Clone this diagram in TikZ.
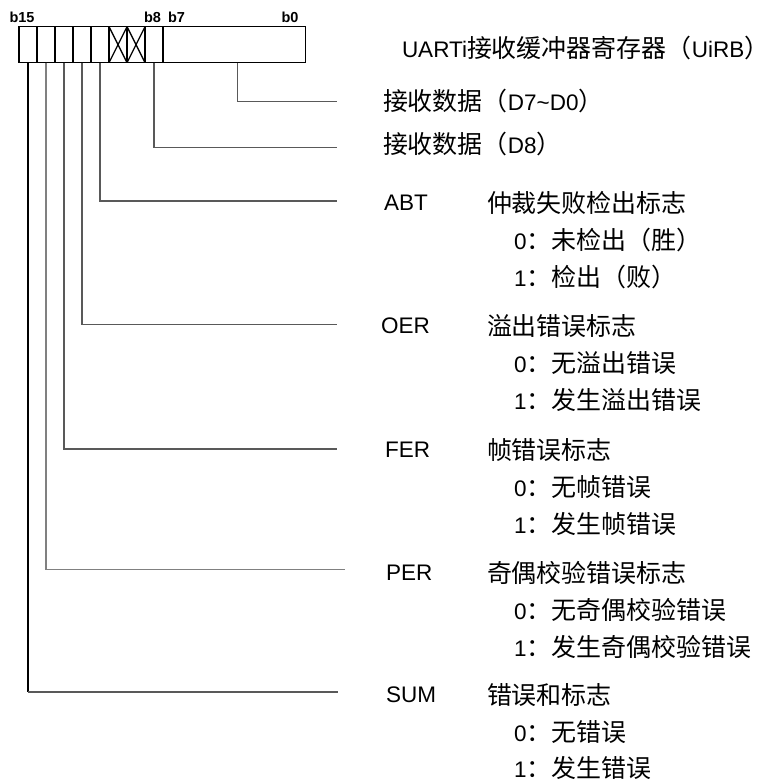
\documentclass[tikz,border=0pt]{standalone}
\usepackage{fontspec}
\setmainfont{Liberation Sans}
\newfontfamily\cjk[Scale=1.11]{Noto Sans CJK SC}
\newcommand\zh[1]{{\cjk #1}}
\begin{document}
\begin{tikzpicture}[x=1pt,y=-1pt,
  every node/.style={inner sep=0pt,outer sep=0pt},
  txt/.style={anchor=west,font=\fontsize{22.5}{27}\selectfont},
  bitlbl/.style={font=\bfseries\fontsize{14.5}{16}\selectfont},
  lead/.style={draw=black!65,line width=1.1pt},
  reg/.style={draw=black,line width=1.3pt}]
\useasboundingbox (0,0) rectangle (771,782);
% register box
\draw[reg] (19,26.7) rectangle (305.7,62.7);
\foreach \k in {1,...,8} \draw[reg] (19+18*\k,26.7) -- (19+18*\k,62.7);
\draw[reg] (109,26.7) -- (127,62.7) (109,62.7) -- (127,26.7)
           (127,26.7) -- (145,62.7) (127,62.7) -- (145,26.7);
% bit labels
\node[bitlbl,anchor=west] (b15) at (9.5,17) {b15};
\node[bitlbl] (b8) at (152.5,17) {b8};
\node[bitlbl,anchor=west] (b7) at (168,17) {b7};
\node[bitlbl,anchor=east] (b0) at (298.5,17) {b0};
% leader start coordinates
\coordinate (s15) at (28,62.7);
\coordinate (s14) at (46,62.7);
\coordinate (s13) at (64,62.7);
\coordinate (s12) at (82,62.7);
\coordinate (s11) at (100,62.7);
\coordinate (s8)  at (154,62.7);
\coordinate (sD)  at (237.3,62.7);
% leader end coordinates
\coordinate (eD)   at (337,101.7);
\coordinate (e8)   at (337,147.7);
\coordinate (eABT) at (337,201);
\coordinate (eOER) at (337,324.3);
\coordinate (eFER) at (337,449);
\coordinate (ePER) at (345,569.3);
\coordinate (eSUM) at (338,692);
\coordinate (cSUM) at (28,692);
\draw[lead] (sD) |- (eD);
\draw[lead] (s8) |- (e8);
\draw[lead] (s11) |- (eABT);
\draw[lead] (s12) |- (eOER);
\draw[lead] (s13) |- (eFER);
\draw[lead,draw=black!50] (s14) |- (ePER);
\draw[lead,draw=black] (s15) -- (cSUM);
\draw[lead] (cSUM) -- (eSUM);
% texts
\node[txt] (title) at (402,48) {UARTi\zh{接收缓冲器寄存器（}UiRB\zh{）}};
\node[txt] (dlo) at (383,101) {\zh{接收数据（}D7\textasciitilde D0\zh{）}};
\node[txt] (dhi) at (383,144) {\zh{接收数据（}D8\zh{）}};
% ABT
\node[txt] (abt) at (384,203) {ABT};
\node[txt] (abtd) at (487,203) {\zh{仲裁失败检出标志}};
\node[txt] (abt0) at (514,240) {0\zh{：未检出（胜）}};
\node[txt] (abt1) at (514,277) {1\zh{：检出（败）}};
% OER
\node[txt] (oer) at (381,326) {OER};
\node[txt] (oerd) at (487,326) {\zh{溢出错误标志}};
\node[txt] (oer0) at (514,363) {0\zh{：无溢出错误}};
\node[txt] (oer1) at (514,400) {1\zh{：发生溢出错误}};
% FER
\node[txt] (fer) at (385,450) {FER};
\node[txt] (ferd) at (487,450) {\zh{帧错误标志}};
\node[txt] (fer0) at (514,487) {0\zh{：无帧错误}};
\node[txt] (fer1) at (514,524) {1\zh{：发生帧错误}};
% PER
\node[txt] (per) at (386,573) {PER};
\node[txt] (perd) at (487,573) {\zh{奇偶校验错误标志}};
\node[txt] (per0) at (514,610) {0\zh{：无奇偶校验错误}};
\node[txt] (per1) at (514,647) {1\zh{：发生奇偶校验错误}};
% SUM
\node[txt] (sum) at (386,695) {SUM};
\node[txt] (sumd) at (487,695) {\zh{错误和标志}};
\node[txt] (sum0) at (514,732) {0\zh{：无错误}};
\node[txt] (sum1) at (514,768) {1\zh{：发生错误}};
\end{tikzpicture}
\end{document}
